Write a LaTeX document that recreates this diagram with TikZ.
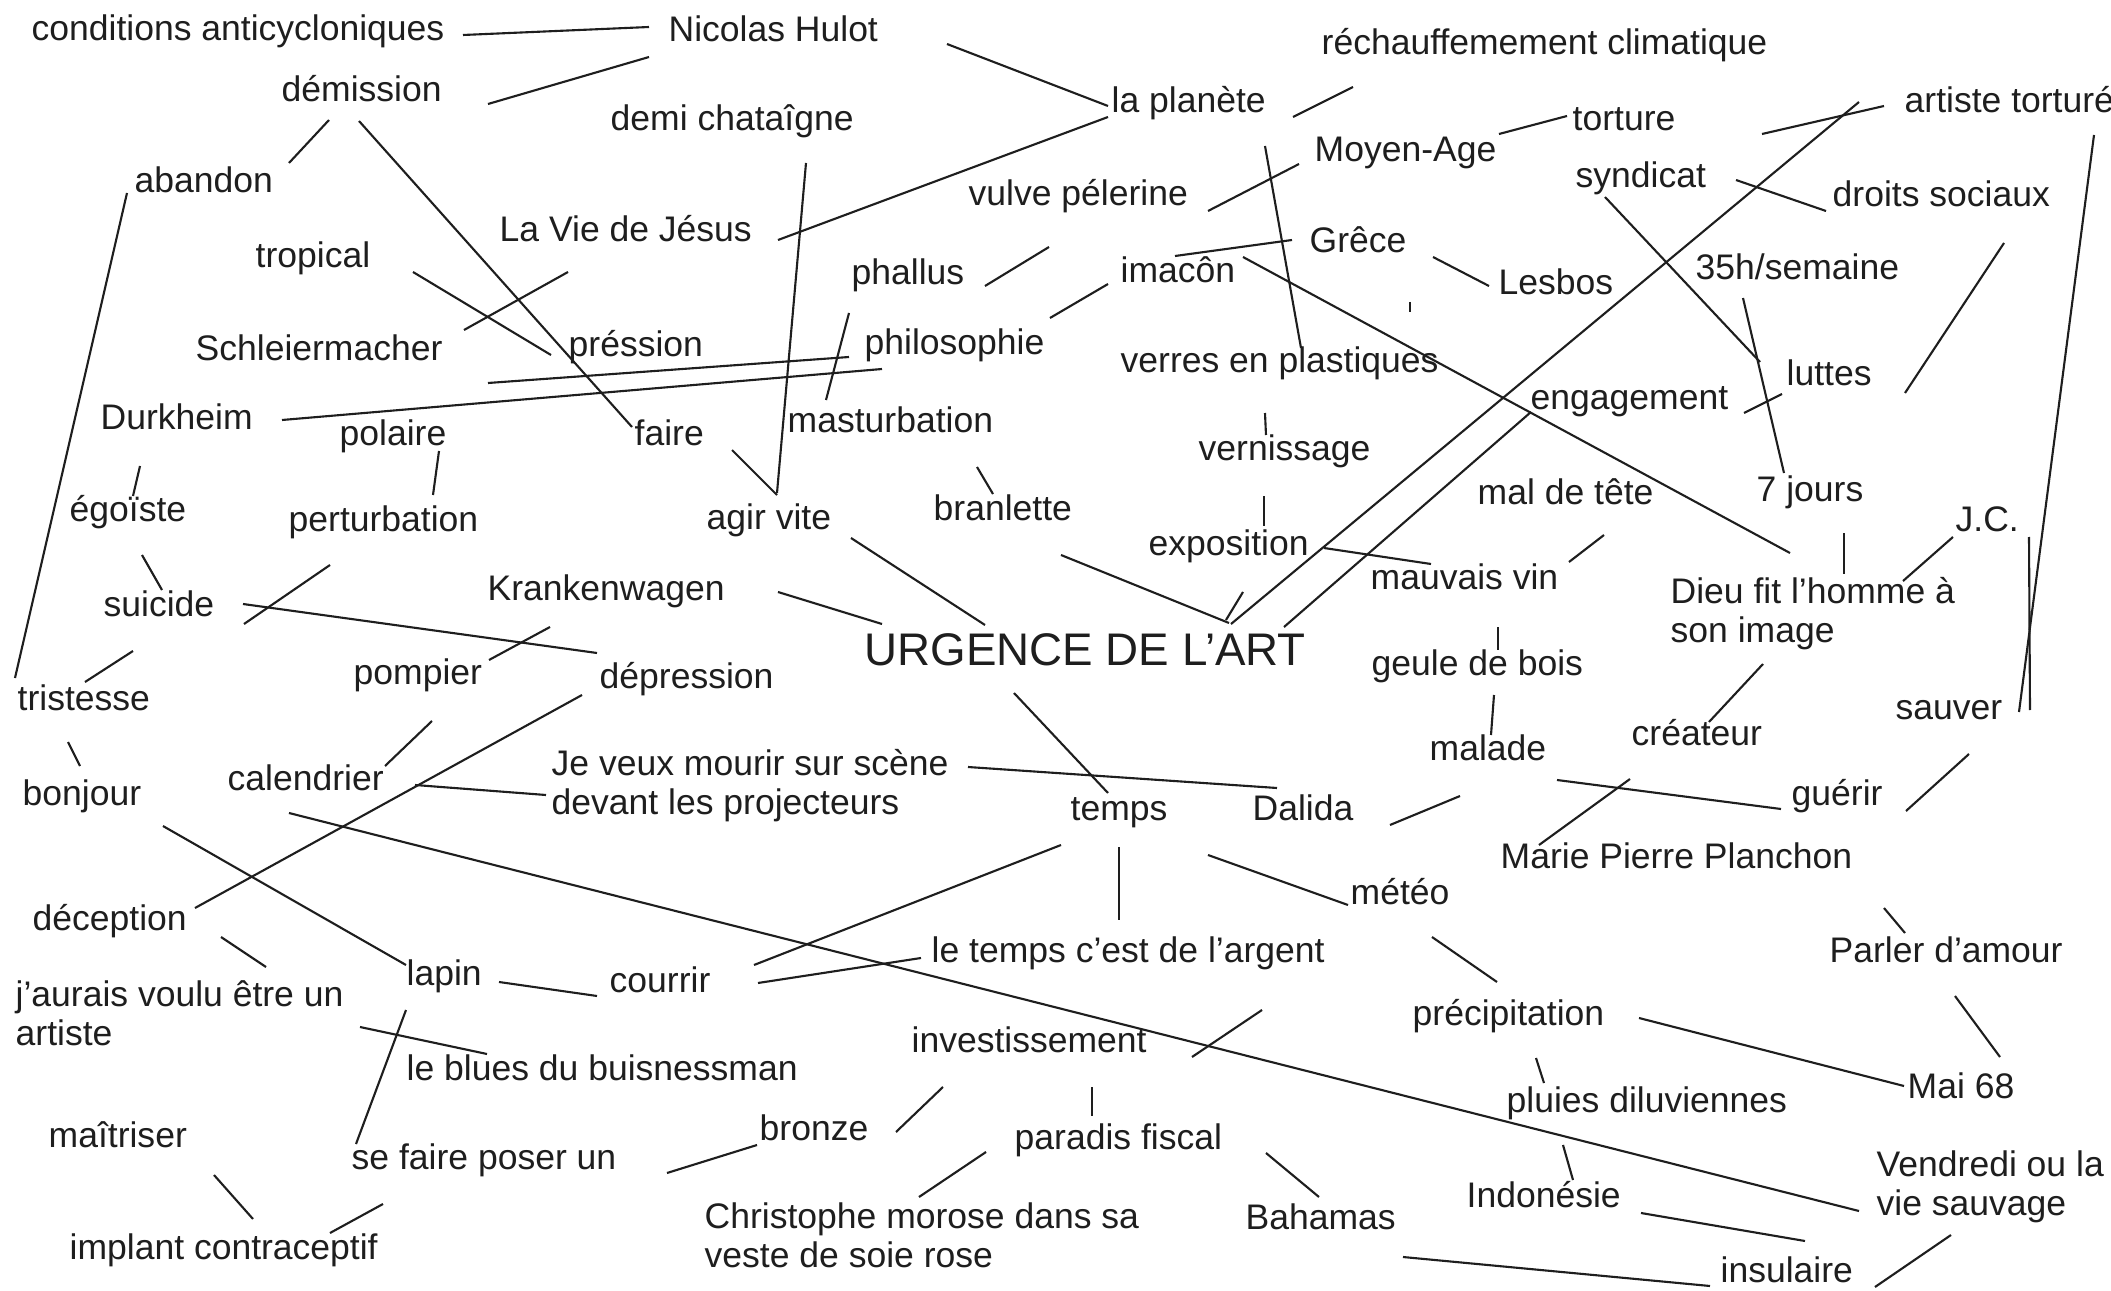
\documentclass[tikz,border=0pt]{standalone}
\usepackage{fontspec}
\setmainfont{Liberation Sans}
\usepackage{xcolor}
\definecolor{Ink}{HTML}{1E1E1E}
\tikzset{
  word/.style={anchor=base west,inner sep=0pt,yshift=-0.6pt,align=left,text=Ink,font=\fontsize{10.1}{11.1}\selectfont},
  headword/.style={word,font=\fontsize{13}{15}\selectfont},
  link/.style={draw=Ink,line width=0.6pt}
}

\begin{document}
\begin{tikzpicture}[x=0.01cm,y=-0.01cm]
\useasboundingbox[fill=white] (0,0) rectangle (2111,1291);
% words (two-line words sit on their last baseline)
\node[word] (anticyclon) at (31,38) {conditions anticycloniques};
\node[word] (hulot) at (668,39) {Nicolas Hulot};
\node[word] (rechauf) at (1321,52) {réchauffemement climatique};
\node[word] (demission) at (281,99) {démission};
\node[word] (planete) at (1111,110) {la planète};
\node[word] (artiste) at (1904,110) {artiste torturé};
\node[word] (chataigne) at (610,128) {demi chataîgne};
\node[word] (torture) at (1572,128) {torture};
\node[word] (moyenage) at (1314,159) {Moyen-Age};
\node[word] (abandon) at (134,190) {abandon};
\node[word] (syndicat) at (1575,185) {syndicat};
\node[word] (vulve) at (968,203) {vulve pélerine};
\node[word] (droits) at (1832,204) {droits sociaux};
\node[word] (vie) at (499,239) {La Vie de Jésus};
\node[word] (grece) at (1309,250) {Grêce};
\node[word] (tropical) at (255,265) {tropical};
\node[word] (semaine) at (1695,277) {35h/semaine};
\node[word] (imacon) at (1120,280) {imacôn};
\node[word] (phallus) at (851,282) {phallus};
\node[word] (lesbos) at (1498,292) {Lesbos};
\node[word] (philo) at (864,352) {philosophie};
\node[word] (pression) at (568,354) {préssion};
\node[word] (schleier) at (195,358) {Schleiermacher};
\node[word] (verres) at (1120,370) {verres en plastiques};
\node[word] (luttes) at (1786,383) {luttes};
\node[word] (engage) at (1530,407) {engagement};
\node[word] (durkheim) at (100,427) {Durkheim};
\node[word] (mastu) at (787,430) {masturbation};
\node[word] (faire) at (634,443) {faire};
\node[word] (polaire) at (339,443) {polaire};
\node[word] (verniss) at (1198,458) {vernissage};
\node[word] (jours) at (1756,499) {7 jours};
\node[word] (maltete) at (1477,502) {mal de tête};
\node[word] (branlette) at (933,518) {branlette};
\node[word] (egoiste) at (69,519) {égoïste};
\node[word] (agir) at (706,527) {agir vite};
\node[word] (perturb) at (288,529) {perturbation};
\node[word] (jc) at (1955,529) {J.C.};
\node[word] (expo) at (1148,553) {exposition};
\node[word] (mauvais) at (1370,587) {mauvais vin};
\node[word] (kranken) at (487,598) {Krankenwagen};
\node[word] (dieu) at (1670,640) {Dieu fit l’homme à\\son image};
\node[word] (suicide) at (103,614) {suicide};
\node[headword] (urgence) at (864,663) {URGENCE DE L’ART};
\node[word] (geule) at (1371,673) {geule de bois};
\node[word] (pompier) at (353,682) {pompier};
\node[word] (depress) at (599,686) {dépression};
\node[word] (tristesse) at (17,708) {tristesse};
\node[word] (sauver) at (1895,717) {sauver};
\node[word] (createur) at (1631,743) {créateur};
\node[word] (malade) at (1429,758) {malade};
\node[word] (mourir) at (551,812) {Je veux mourir sur scène\\devant les projecteurs};
\node[word] (calend) at (227,788) {calendrier};
\node[word] (bonjour) at (22,803) {bonjour};
\node[word] (guerir) at (1791,803) {guérir};
\node[word] (temps) at (1070,818) {temps};
\node[word] (dalida) at (1252,818) {Dalida};
\node[word] (marie) at (1500,866) {Marie Pierre Planchon};
\node[word] (meteo) at (1350,902) {météo};
\node[word] (deception) at (32,928) {déception};
\node[word] (argent) at (931,960) {le temps c’est de l’argent};
\node[word] (parler) at (1829,960) {Parler d’amour};
\node[word] (lapin) at (406,983) {lapin};
\node[word] (courrir) at (609,990) {courrir};
\node[word] (aurais) at (15,1043) {j’aurais voulu être un\\artiste};
\node[word] (precip) at (1412,1023) {précipitation};
\node[word] (invest) at (911,1050) {investissement};
\node[word] (blues) at (406,1078) {le blues du buisnessman};
\node[word] (mai) at (1907,1096) {Mai 68};
\node[word] (pluies) at (1506,1110) {pluies diluviennes};
\node[word] (bronze) at (759,1138) {bronze};
\node[word] (maitriser) at (48,1145) {maîtriser};
\node[word] (paradis) at (1014,1147) {paradis fiscal};
\node[word] (poser) at (351,1167) {se faire poser un};
\node[word] (vendredi) at (1876,1213) {Vendredi ou la\\vie sauvage};
\node[word] (indon) at (1466,1205) {Indonésie};
\node[word] (christophe) at (704,1265) {Christophe morose dans sa\\veste de soie rose};
\node[word] (bahamas) at (1245,1227) {Bahamas};
\node[word] (implant) at (69,1257) {implant contraceptif};
\node[word] (insul) at (1720,1280) {insulaire};
% links, free at both ends
\foreach \n/\xa/\ya/\xb/\yb in {
  anticyclon-hulot/463/35/649/27, demission-hulot/488/104/649/57,
  demission-abandon/329/120/289/163, demission-faire/359/121/632/427,
  abandon-tristesse/127/193/15/678, tropical-pression/413/272/551/355,
  schleier-vie/464/330/568/272, schleier-philo/488/383/849/357,
  durkheim-philo/282/420/882/369, philo-mastu/849/313/826/400,
  chataigne-agir/806/163/777/493, vie-planete/778/240/1108/117,
  hulot-planete/947/44/1108/106, phallus-vulve/985/286/1049/247,
  philo-imacon/1050/318/1108/284, planete-rechauf/1293/117/1353/87,
  vulve-moyenage/1208/211/1299/164, moyenage-torture/1499/134/1567/116,
  planete-verres/1265/146/1301/348, imacon-grece/1175/256/1292/240,
  imacon-dieu/1243/257/1790/553, grece-lesbos/1433/257/1489/286,
  urgence-artiste/1231/624/1859/102, urgence-engage/1284/627/1531/412,
  torture-artiste/1762/134/1884/106, syndicat-droits/1736/180/1826/211,
  syndicat-luttes/1605/197/1760/362, semaine-jours/1743/298/1784/473,
  engage-luttes/1744/413/1782/394, droits-luttes/2004/243/1905/393,
  artiste-sauver/2094/135/2019/712, jc-sauver/2029/537/2030/710,
  durkheim-egoiste/140/466/133/496, polaire-perturb/439/451/433/495,
  egoiste-suicide/142/555/162/590, perturb-suicide/330/565/244/624,
  suicide-depress/243/604/597/653, suicide-tristesse/133/651/85/682,
  kranken-pompier/489/660/550/627, tristesse-bonjour/68/742/80/766,
  pompier-calend/432/721/385/766, calend-mourir/415/785/546/795,
  depress-deception/582/695/195/908, calend-vendredi/289/813/1859/1211,
  bonjour-lapin/163/826/406/965, faire-agir/732/450/777/495,
  agir-urgence/851/538/985/625, kranken-urgence/778/592/882/624,
  urgence-temps/1014/693/1108/793, mourir-dalida/968/767/1277/788,
  mastu-branlette/977/467/993/494, branlette-urgence/1061/555/1229/623,
  expo-urgence/1243/592/1226/620, verniss-expo/1264/496/1264/526,
  expo-mauvais/1324/548/1431/564, maltete-mauvais/1569/562/1604/535,
  mauvais-geule/1498/627/1498/650, geule-malade/1494/695/1491/735,
  dalida-malade/1390/825/1460/796, malade-guerir/1557/780/1781/809,
  createur-marie/1630/779/1539/845, dieu-createur/1763/664/1709/722,
  jours-dieu/1844/533/1844/574, jc-dieu/1953/537/1903/581,
  sauver-guerir/1969/754/1906/811, marie-parler/1884/908/1905/933,
  parler-mai/1955/996/2000/1057, precip-mai/1639/1018/1904/1086,
  vendredi-insul/1951/1235/1875/1287, indon-insul/1641/1213/1805/1241,
  bahamas-insul/1403/1257/1710/1286, temps-courrir/1061/845/754/965,
  temps-argent/1119/847/1119/920, temps-meteo/1208/855/1348/905,
  courrir-argent/758/983/921/958, lapin-courrir/499/982/597/996,
  lapin-poser/406/1010/356/1144, aurais-blues/360/1027/487/1054,
  deception-aurais/221/937/266/967, maitriser-implant/214/1175/253/1219,
  implant-poser/330/1233/383/1204, poser-bronze/667/1173/757/1145,
  bronze-invest/896/1132/943/1087, christophe-paradis/919/1197/986/1152,
  invest-paradis/1092/1087/1092/1116, argent-invest/1262/1010/1192/1057,
  paradis-bahamas/1266/1153/1319/1197, meteo-precip/1432/937/1497/982,
  precip-pluies/1536/1058/1544/1083, pluies-indon/1563/1145/1573/1180,
  verres-verniss/1265/413/1266/435, lesbos-tick/1410/302/1410/312}{
  \coordinate (\n-a) at (\xa,\ya);
  \coordinate (\n-b) at (\xb,\yb);
  \draw[link] (\n-a) -- (\n-b);
}
\end{tikzpicture}
\end{document}
